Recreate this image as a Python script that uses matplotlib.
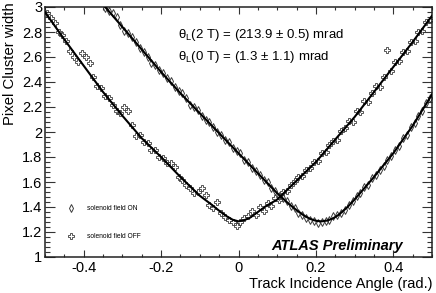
import numpy as np
import matplotlib
matplotlib.use("Agg")
import matplotlib.pyplot as plt
from matplotlib.ticker import MultipleLocator, FuncFormatter
from matplotlib.lines import Line2D

plt.rcParams['font.family'] = ['Liberation Sans', 'DejaVu Sans']
plt.rcParams['axes.unicode_minus'] = False

# ---------------- data ----------------
off_x = [round(-0.495 + 0.01 * i, 3) for i in range(100)]
off_y = [2.95, 2.91, 2.87, 2.80, 2.78, 2.73, 2.65, 2.60, 2.56, 2.63,
         2.60, 2.55, 2.44, 2.37, 2.35, 2.29, 2.27, 2.22, 2.17, 2.15,
         2.20, 2.17, 2.06, 1.97, 1.98, 1.92, 1.91, 1.86, 1.86, 1.80,
         1.79, 1.75, 1.75, 1.72, 1.64, 1.62, 1.58, 1.55, 1.51, 1.52,
         1.55, 1.50, 1.42, 1.39, 1.44, 1.35, 1.32, 1.30, 1.28, 1.25,
         1.28, 1.31, 1.33, 1.37, 1.34, 1.40, 1.37, 1.43, 1.41, 1.47,
         1.46, 1.52, 1.53, 1.58, 1.61, 1.64, 1.65, 1.70, 1.71, 1.76,
         1.77, 1.83, 1.84, 1.90, 1.93, 1.94, 2.01, 2.03, 2.09, 2.08,
         2.17, 2.16, 2.25, 2.24, 2.31, 2.37, 2.36, 2.44, 2.66, 2.49,
         2.56, 2.57, 2.64, 2.65, 2.72, 2.73, 2.80, 2.81, 2.88, 2.90]

on_x = [round(-0.345 + 0.01 * i, 3) for i in range(85)]
on_y = [2.99, 2.97, 2.95, 2.92, 2.86, 2.81, 2.79, 2.76, 2.72, 2.67,
        2.64, 2.60, 2.55, 2.54, 2.50, 2.47, 2.43, 2.41, 2.36, 2.33,
        2.31, 2.27, 2.22, 2.20, 2.18, 2.13, 2.10, 2.08, 2.04, 2.00,
        1.98, 1.94, 1.92, 1.87, 1.85, 1.83, 1.78, 1.76, 1.71, 1.69,
        1.66, 1.62, 1.60, 1.55, 1.53, 1.49, 1.47, 1.45, 1.41, 1.39,
        1.35, 1.34, 1.31, 1.30, 1.29, 1.27, 1.28, 1.29, 1.30, 1.33,
        1.34, 1.35, 1.38, 1.42, 1.45, 1.49, 1.51, 1.56, 1.58, 1.63,
        1.66, 1.70, 1.73, 1.78, 1.81, 1.86, 1.89, 1.95, 1.98, 2.04,
        2.07, 2.13, 2.17, 2.23, 2.27]

# fit curves
fit_off_x = [-0.50, -0.45, -0.40, -0.35, -0.30, -0.25, -0.20, -0.15, -0.10,
             -0.07, -0.05, -0.03, -0.015, 0.0, 0.015, 0.03, 0.05, 0.07,
             0.10, 0.15, 0.20, 0.25, 0.30, 0.35, 0.40, 0.45, 0.50]
fit_off_y = [2.96, 2.74, 2.53, 2.32, 2.13, 1.95, 1.80, 1.64, 1.49,
             1.42, 1.37, 1.325, 1.298, 1.285, 1.295, 1.315, 1.36, 1.405,
             1.46, 1.61, 1.76, 1.94, 2.12, 2.32, 2.52, 2.72, 2.93]

fit_on_x = [-0.35, -0.30, -0.25, -0.20, -0.15, -0.10, -0.05, 0.00, 0.05,
            0.10, 0.13, 0.15, 0.17, 0.185, 0.20, 0.214, 0.23, 0.245, 0.26,
            0.28, 0.30, 0.35, 0.40, 0.45, 0.50]
fit_on_y = [3.02, 2.84, 2.66, 2.48, 2.31, 2.15, 1.99, 1.83, 1.67,
            1.51, 1.425, 1.375, 1.33, 1.305, 1.29, 1.285, 1.292, 1.31, 1.34,
            1.395, 1.46, 1.64, 1.83, 2.05, 2.30]

legend_labels = ["solenoid field ON", "solenoid field OFF"]
text_2T = "θ$_\\mathregular{L}$(2 T) = (213.9 ± 0.5) mrad"
text_0T = "θ$_\\mathregular{L}$(0 T) = (1.3 ± 1.1) mrad"

# ---------------- figure ----------------
W, H = 436, 293
fig = plt.figure(figsize=(W / 100, H / 100), dpi=100)
ax = fig.add_axes([45 / W, 1 - 257 / H, 387 / W, 250 / H])

mcol = '#3c3c3c'
off_style = dict(linestyle='none', marker='P', markersize=4.4,
                 markerfacecolor='none', markeredgecolor=mcol,
                 markeredgewidth=0.6)
on_style = dict(linestyle='none', marker='d', markersize=4.0,
                markerfacecolor='none', markeredgecolor=mcol,
                markeredgewidth=0.7)
ax.plot(off_x, off_y, zorder=2, **off_style)
ax.plot(on_x, on_y, zorder=2, **on_style)
ax.plot(fit_off_x, fit_off_y, color='black', lw=1.5, zorder=3,
        solid_joinstyle='round')
ax.plot(fit_on_x, fit_on_y, color='black', lw=1.5, zorder=3,
        solid_joinstyle='round')

ax.set_xlim(-0.5, 0.5)
ax.set_ylim(1.0, 3.0)

ax.xaxis.set_major_locator(MultipleLocator(0.2))
ax.xaxis.set_minor_locator(MultipleLocator(0.05))
ax.yaxis.set_major_locator(MultipleLocator(0.2))
ax.yaxis.set_minor_locator(MultipleLocator(0.04))
fmt = FuncFormatter(lambda v, p: ('%g' % round(v, 3)) if abs(v) > 1e-9 else '0')
ax.xaxis.set_major_formatter(fmt)
ax.yaxis.set_major_formatter(fmt)

ax.tick_params(axis='both', which='both', direction='in', top=True, right=True,
               color='#333333', width=0.8)
ax.tick_params(axis='x', which='major', length=5, pad=3, labelsize=10.5)
ax.tick_params(axis='x', which='minor', length=2.5)
ax.tick_params(axis='y', which='major', length=7, pad=2, labelsize=10.5)
ax.tick_params(axis='y', which='minor', length=3.5)
for s in ax.spines.values():
    s.set_linewidth(1.1)
    s.set_color('#222222')

fig.text(10 / W, 1 - 2 / H, "Pixel Cluster width", rotation=90,
         ha='center', va='top', fontsize=10.7)
fig.text(432 / W, 1 - 284 / H, "Track Incidence Angle (rad.)",
         ha='right', va='center', fontsize=10.5)

ax.text((178 - 45) / 387, (257 - 35) / 250, text_2T, transform=ax.transAxes,
        ha='left', va='center', fontsize=9.5)
ax.text((178 - 45) / 387, (257 - 57) / 250, text_0T, transform=ax.transAxes,
        ha='left', va='center', fontsize=9.5)
ax.text((403 - 45) / 387, (257 - 246) / 250, "ATLAS Preliminary",
        transform=ax.transAxes, ha='right', va='center', fontsize=10.5,
        fontweight='bold', fontstyle='italic')

handles = [Line2D([], [], **on_style), Line2D([], [], **off_style)]
leg = ax.legend(handles, legend_labels, loc='upper left',
                bbox_to_anchor=((68 - 45) / 387, (257 - 205) / 250),
                frameon=False, fontsize=4.8, handlelength=1.0,
                handletextpad=1.8, labelspacing=3.2, borderpad=0,
                borderaxespad=0)

fig.savefig("out.png", dpi=100)
